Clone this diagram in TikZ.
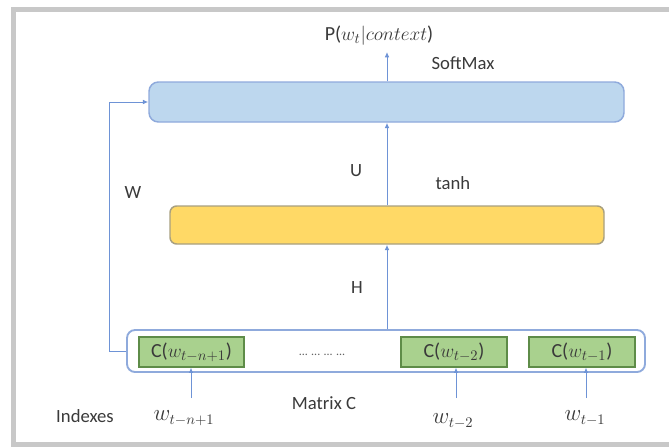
\documentclass[tikz,border=0pt]{standalone}
\usepackage{fontspec}
\setmainfont{Carlito}
\usetikzlibrary{arrows.meta}
\definecolor{txtgray}{HTML}{3A3A3A}
\definecolor{framegray}{HTML}{C8C8C8}
\definecolor{linkblue}{HTML}{6E93D6}
\definecolor{smfill}{HTML}{BDD7EE}
\definecolor{smdraw}{HTML}{8FAADC}
\definecolor{yfill}{HTML}{FFD966}
\definecolor{ydraw}{HTML}{A8A080}
\definecolor{gfill}{HTML}{A9D18E}
\definecolor{gdraw}{HTML}{5E8C48}
\definecolor{mdraw}{HTML}{8FAADC}
\tikzset{
  lbl/.style={text=txtgray, font=\fontsize{14}{16}\selectfont, inner sep=0pt},
  mlbl/.style={text=txtgray, font=\fontsize{16}{18}\selectfont, inner sep=0pt},
  layerbox/.style={rounded corners=7pt, line width=1.1pt, inner sep=0pt},
  gbox/.style={fill=gfill, draw=gdraw, line width=0.9pt, inner sep=0pt,
    minimum height=30*0.75pt, text=txtgray, font=\fontsize{15}{17}\selectfont},
  link/.style={draw=linkblue, line width=0.75pt},
  arr/.style={link, -{Latex[length=4pt,width=3.5pt]}},
}
\begin{document}
\begin{tikzpicture}[x=0.75pt, y=-0.75pt]
\useasboundingbox[fill=white] (0,0) rectangle (669,447);
\draw[framegray, line width=3.75pt] (669,9.5) -- (13.5,9.5) -- (13.5,444.5) -- (669,444.5);

% layers
\node[layerbox, fill=smfill, draw=smdraw, minimum width=475*0.75pt, minimum height=40*0.75pt] (sm) at (386.5,102) {};
\node[layerbox, rounded corners=5pt, fill=yfill, draw=ydraw, minimum width=434*0.75pt, minimum height=38*0.75pt] (yel) at (387,225) {};
\node[layerbox, rounded corners=6pt, fill=white, draw=mdraw, line width=1.4pt, minimum width=518*0.75pt, minimum height=42*0.75pt] (mat) at (386,351) {};

% embedding boxes
\node[gbox, minimum width=105*0.75pt] (g1) at (191.5,352) {C($w_{t-n+1}$)};
\node[gbox, minimum width=106*0.75pt] (g2) at (454,352) {C($w_{t-2}$)};
\node[gbox, minimum width=106*0.75pt] (g3) at (582,352) {C($w_{t-1}$)};
\node[text=txtgray!80, font=\fontsize{9}{10}\selectfont, inner sep=0pt] (dots) at (322,355) {...\hspace{2.5pt}...\hspace{2.5pt}...\hspace{2.5pt}...};

% labels
\node[lbl, font=\fontsize{15}{17}\selectfont] (p) at (379,36) {P($w_t|context$)};
\node[lbl] (softmax) at (463,63) {SoftMax};
\node[lbl] (u) at (356,171) {U};
\node[lbl] (tanh) at (453,183) {tanh};
\node[lbl] (w) at (133,193) {W};
\node[lbl] (h) at (357,288) {H};
\node[lbl] (matc) at (324,403) {Matrix C};
\node[lbl] (idx) at (85,416) {Indexes};
\node[mlbl] (i1) at (184,418) {$w_{t-n+1}$};
\node[mlbl] (i2) at (453,421) {$w_{t-2}$};
\node[mlbl] (i3) at (585,418) {$w_{t-1}$};

% connectors
\coordinate (ptop) at (387,52);
\coordinate (c1) at (191,398);
\coordinate (c2) at (456,398);
\coordinate (c3) at (586,398);
\coordinate (wl) at (109,351);
\coordinate (wu) at (109,102);
\draw[arr] (sm.north -| ptop) -- (ptop);
\draw[arr] (yel.north -| ptop) -- (sm.south -| ptop);
\draw[arr] (mat.north -| ptop) -- (yel.south -| ptop);
\draw[arr] (mat.west) -- (wl) -- (wu) -- (sm.west);
\draw[arr] (c1) -- (g1.south -| c1);
\draw[arr] (c2) -- (g2.south -| c2);
\draw[arr] (c3) -- (g3.south -| c3);
\end{tikzpicture}
\end{document}
